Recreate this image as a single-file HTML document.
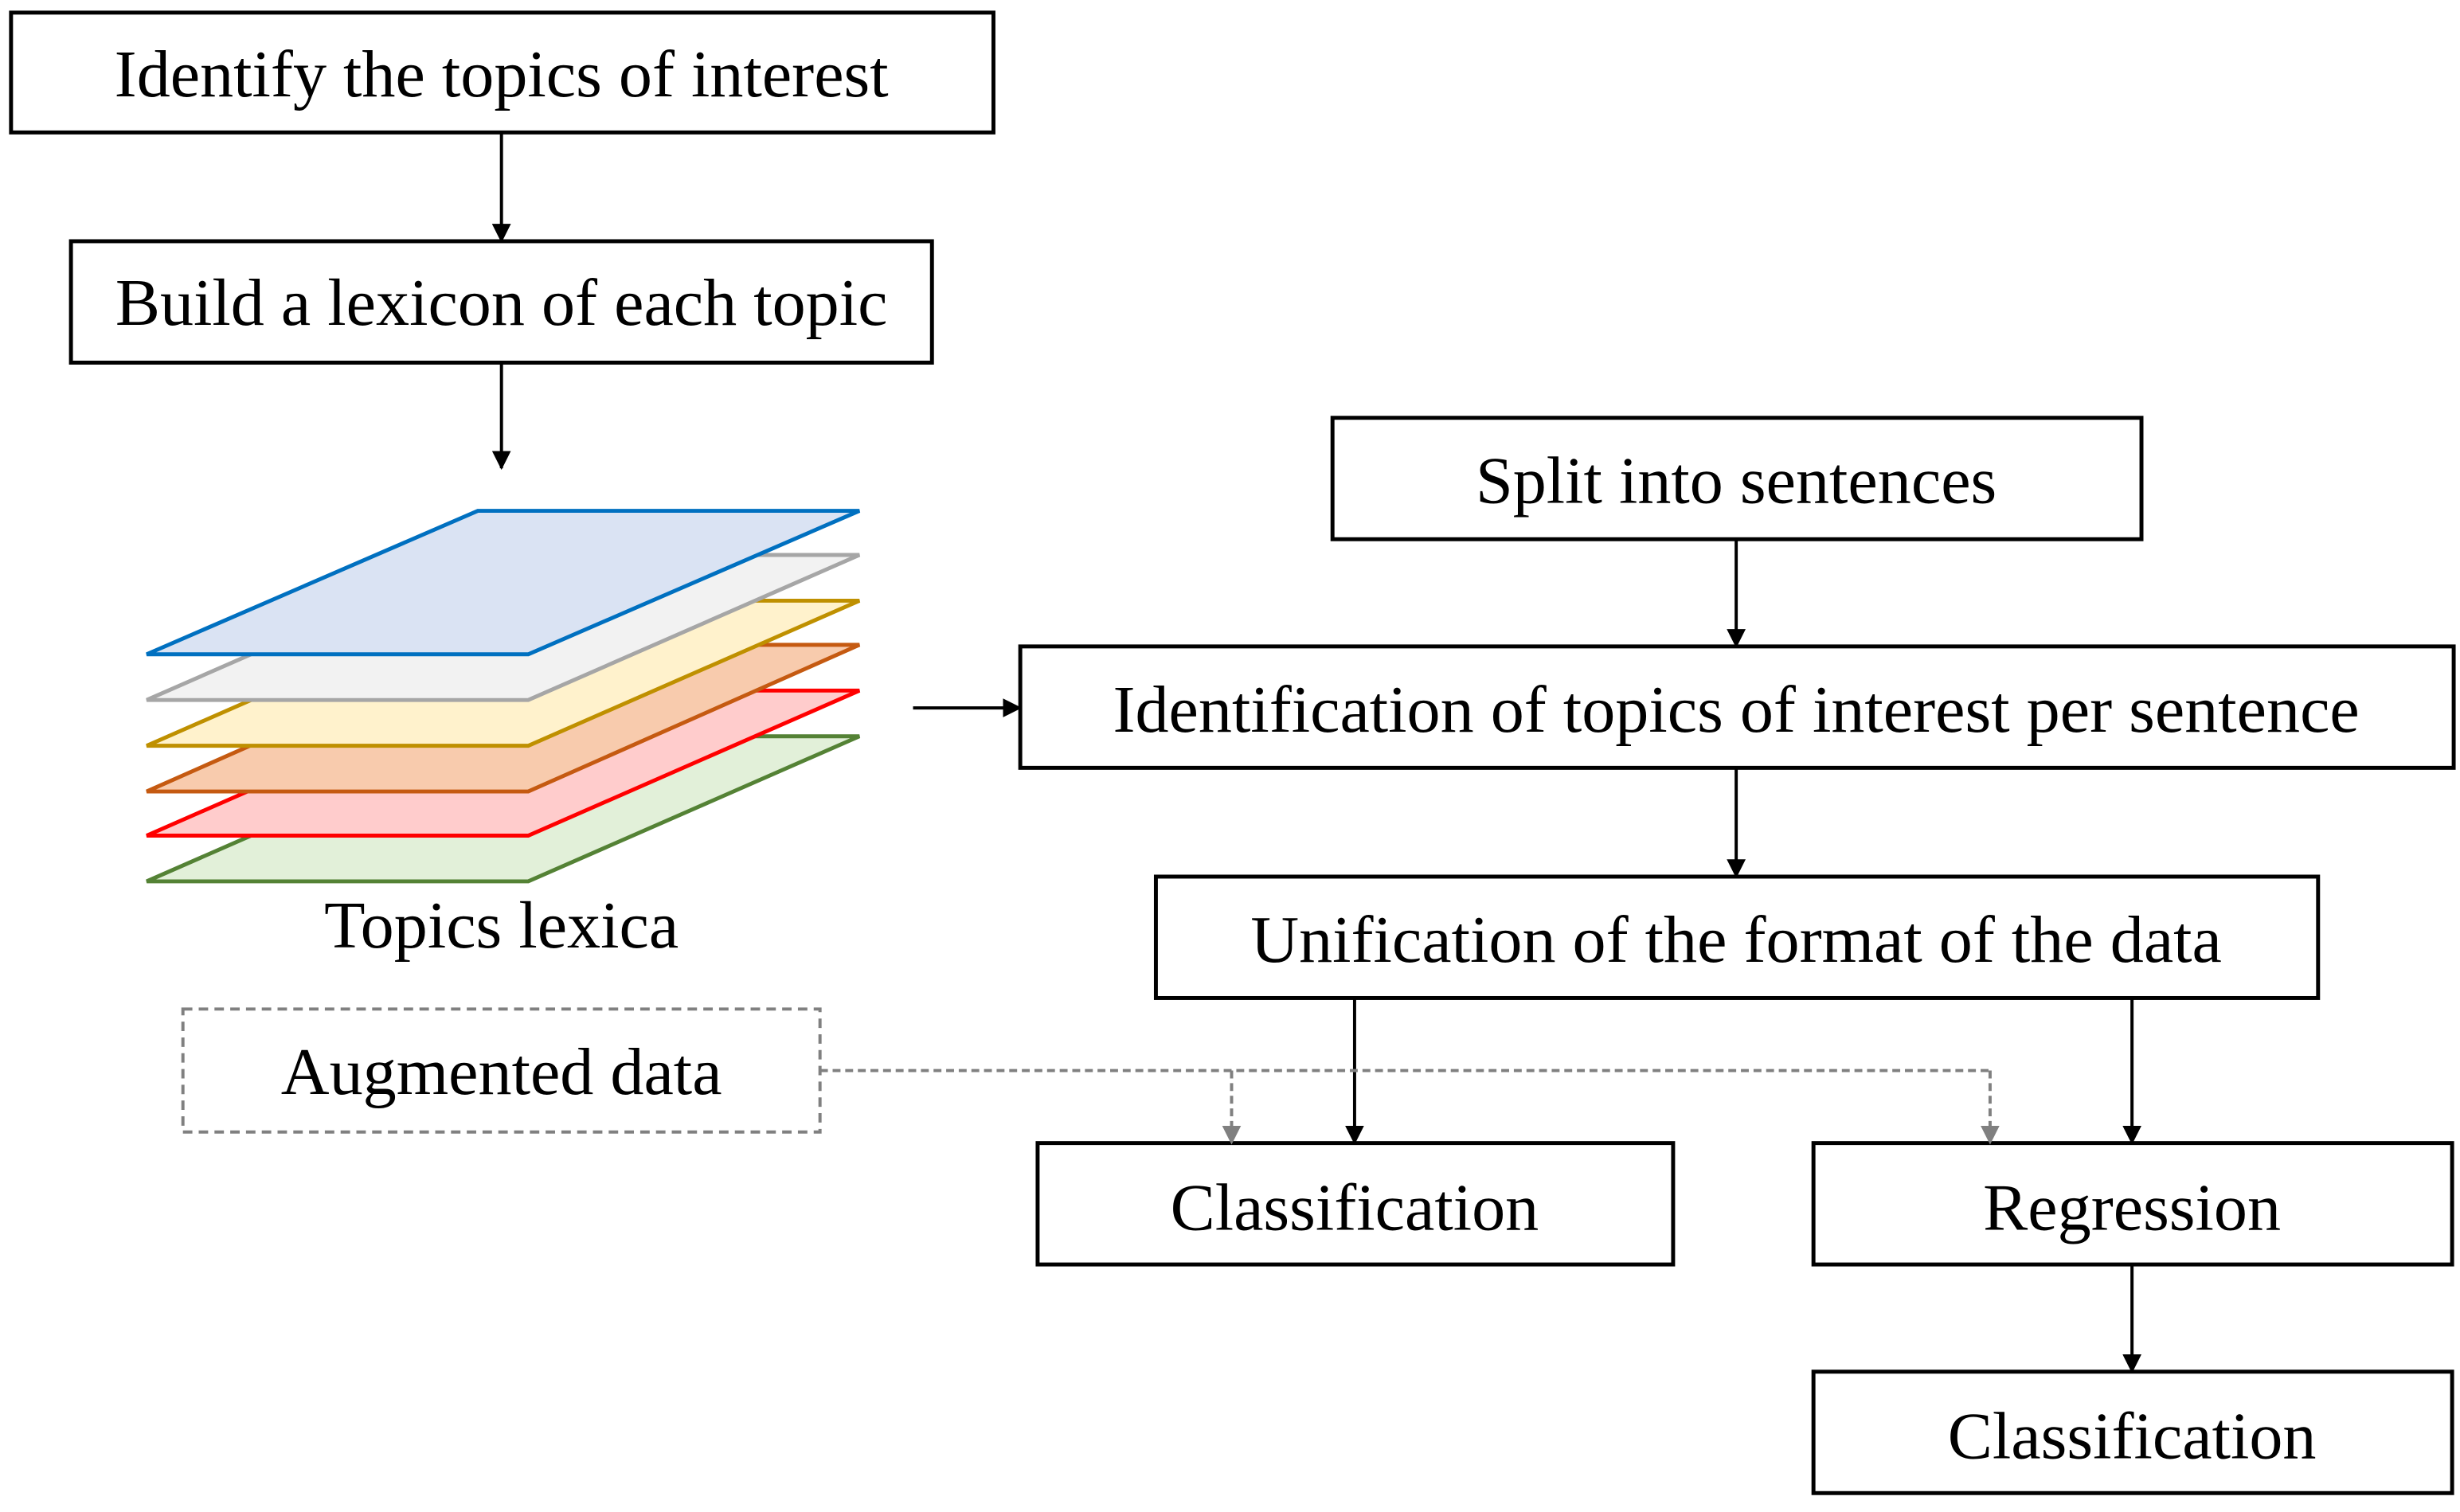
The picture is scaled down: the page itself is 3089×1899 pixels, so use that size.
<!DOCTYPE html>
<html><head><meta charset="utf-8"><style>html,body{margin:0;padding:0;background:#fff}svg{display:block}</style></head>
<body>
<svg width="3089" height="1899" viewBox="0 0 1560 959" preserveAspectRatio="none" xmlns="http://www.w3.org/2000/svg">
<defs>
<marker id="a" markerWidth="12" markerHeight="12" refX="11" refY="6" orient="auto" markerUnits="userSpaceOnUse"><path d="M0,0 L12,6 L0,12 z" fill="#000"/></marker>
<marker id="g" markerWidth="12" markerHeight="12" refX="11" refY="6" orient="auto" markerUnits="userSpaceOnUse"><path d="M0,0 L12,6 L0,12 z" fill="#808080"/></marker>
</defs>
<g font-family="Liberation Serif, serif" font-size="42.5" text-anchor="middle" fill="#000">
<g fill="#fff" stroke="#000" stroke-width="2.5">
<rect x="7" y="8" width="623" height="76"/>
<rect x="45" y="153" width="546" height="77"/>
<rect x="845" y="265" width="513" height="77"/>
<rect x="647" y="410" width="909" height="77"/>
<rect x="733" y="556" width="737" height="77"/>
<rect x="658" y="725" width="403" height="77"/>
<rect x="1150" y="725" width="405" height="77"/>
<rect x="1150" y="870" width="405" height="77"/>
</g>
<rect x="116" y="640" width="404" height="78" fill="#fff" stroke="#808080" stroke-width="2" stroke-dasharray="6,4"/>
<g stroke-width="2.5">
<polygon points="93,559 303,467 545,467 335,559" fill="#e2f0d9" stroke="#548235"/>
<polygon points="93,530 303,438 545,438 335,530" fill="#ffcccc" stroke="#ff0000"/>
<polygon points="93,502 303,409 545,409 335,502" fill="#f8cbad" stroke="#c55a11"/>
<polygon points="93,473 303,381 545,381 335,473" fill="#fff2cc" stroke="#bf9000"/>
<polygon points="93,444 303,352 545,352 335,444" fill="#f2f2f2" stroke="#a6a6a6"/>
<polygon points="93,415 303,324 545,324 335,415" fill="#dae3f3" stroke="#0070c0"/>
</g>
<g stroke="#000" stroke-width="2" fill="none" marker-end="url(#a)">
<line x1="318" y1="84" x2="318" y2="153"/>
<line x1="318" y1="230" x2="318" y2="297"/>
<line x1="579" y1="449" x2="647" y2="449"/>
<line x1="1101" y1="342" x2="1101" y2="410"/>
<line x1="1101" y1="487" x2="1101" y2="556"/>
<line x1="859" y1="633" x2="859" y2="725"/>
<line x1="1352" y1="633" x2="1352" y2="725"/>
<line x1="1352" y1="802" x2="1352" y2="870"/>
</g>
<g stroke="#808080" stroke-width="2" fill="none" stroke-dasharray="5,3">
<polyline points="520,679 1262,679"/>
<line x1="781" y1="679" x2="781" y2="725" marker-end="url(#g)"/>
<line x1="1262" y1="679" x2="1262" y2="725" marker-end="url(#g)"/>
</g>
<text x="318" y="61">Identify the topics of interest</text>
<text x="318" y="206">Build a lexicon of each topic</text>
<text x="1101" y="319">Split into sentences</text>
<text x="1101" y="464">Identification of topics of interest per sentence</text>
<text x="1101" y="610">Unification of the format of the data</text>
<text x="318" y="694">Augmented data</text>
<text x="859" y="780">Classification</text>
<text x="1352" y="780">Regression</text>
<text x="1352" y="925">Classification</text>
<text x="318" y="601">Topics lexica</text>
</g>
</svg>
</body></html>
